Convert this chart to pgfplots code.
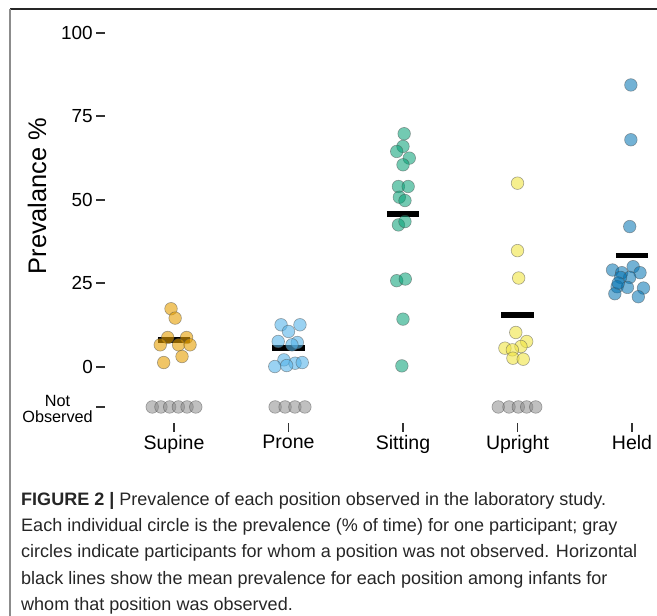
\documentclass[border=0pt]{standalone}
\usepackage{pgfplots}
\pgfplotsset{compat=1.18}
\usepackage{fontspec}
\setmainfont{Liberation Sans}
\definecolor{cSup}{HTML}{E69F00}
\definecolor{cPro}{HTML}{56B4E9}
\definecolor{cSit}{HTML}{009E73}
\definecolor{cUp}{HTML}{F0E442}
\definecolor{cHeld}{HTML}{0072B2}
\definecolor{cGray}{HTML}{8C8C8C}
\begin{document}
\begin{tikzpicture}[x=1bp,y=1bp]
\useasboundingbox (0,0) rectangle (657,616);
% frame
\draw[black!85,line width=1.3bp] (10,607) -- (657,607);
\draw[black!45,line width=1.3bp] (10,607) -- (10,0);
\begin{axis}[
  at={(105.3bp,193bp)}, anchor=south west,
  scale only axis, width=549.6bp, height=403.5bp,
  xmin=-0.6, xmax=4.2, ymin=-16.8, ymax=104,
  axis x line=bottom, axis y line=left,
  axis line style={draw=none},
  tick align=outside, major tick length=9bp,
  tick style={black!80, line width=1.8bp},
  xtick={0,1,2,3,4},
  xticklabels={Supine,Prone,Sitting,Upright,Held},
  ytick={0,25,50,75,100},
  extra y ticks={-12},
  extra y tick labels={{\fontsize{16.3}{15}\selectfont\begin{tabular}{@{}c@{}}Not\\Observed\end{tabular}}},
  extra y tick style={yticklabel style={yshift=-4.5bp}},
  /pgf/number format/assume math mode=true,
  yticklabel style={font=\fontsize{19}{21}\selectfont, black},
  xticklabel style={font=\fontsize{19.6}{21}\selectfont, black},
  clip=false,
  every axis plot/.append style={only marks, mark=*, mark size=6.3bp},
]
% gray not observed
\addplot[mark options={fill=cGray, fill opacity=0.55, draw=black!70, draw opacity=0.5, line width=0.6bp}] coordinates {
(-0.19,-12) (-0.114,-12) (-0.038,-12) (0.038,-12) (0.114,-12) (0.19,-12)
(0.883,-12) (0.97,-12) (1.056,-12) (1.143,-12)
(2.832,-12) (2.926,-12) (3.007,-12) (3.08,-12) (3.159,-12)
};
% Supine
\addplot[mark options={fill=cSup, fill opacity=0.6, draw=black!70, draw opacity=0.5, line width=0.6bp}] coordinates {
(-0.026,17.4) (0.01,14.6) (-0.055,8.8) (0.11,8.8) (-0.12,6.6) (0.04,6.6) (0.14,6.6) (-0.09,1.3) (0.07,3.1)
};
% Prone
\addplot[mark options={fill=cPro, fill opacity=0.6, draw=black!70, draw opacity=0.5, line width=0.6bp}] coordinates {
(0.935,12.6) (1.10,12.6) (1.0,10.6) (0.91,7.6) (1.077,7.3) (1.03,6.6) (0.96,2.1) (1.057,1.1) (1.12,1.3) (0.88,0.1) (0.984,0.4)
};
% Sitting
\addplot[mark options={fill=cSit, fill opacity=0.55, draw=black!70, draw opacity=0.5, line width=0.6bp}] coordinates {
(2.01,69.8) (2.0,66.0) (1.945,64.5) (2.055,62.5) (2.0,60.5) (1.96,54.0) (2.045,54.0) (1.968,50.8) (2.017,49.8) (1.96,42.5) (2.017,43.5) (1.945,25.8) (2.02,26.3) (2.0,14.3) (1.99,0.3)
};
% Upright
\addplot[mark options={fill=cUp, fill opacity=0.6, draw=black!70, draw opacity=0.5, line width=0.6bp}] coordinates {
(3.0,55.0) (3.0,34.8) (3.01,26.6) (2.985,10.3) (3.08,7.6) (2.89,5.6) (3.03,6.1) (2.955,5.1) (2.96,2.6) (3.05,2.3)
};
% Held
\addplot[mark options={fill=cHeld, fill opacity=0.55, draw=black!70, draw opacity=0.5, line width=0.6bp}] coordinates {
(3.99,84.4) (3.99,68.0) (3.98,42.0) (3.83,29.0) (3.91,28.2) (4.01,30.0) (4.07,28.2) (3.98,26.8) (3.90,26.8) (3.87,24.0) (3.96,23.8) (4.10,23.6) (3.85,21.9) (4.055,21.0) (3.88,25.1)
};
% means
\addplot[no marks, sharp plot, black, line width=5.5bp, line cap=butt] coordinates {(-0.14,8.1) (0.14,8.1)};
\addplot[no marks, sharp plot, black, line width=5.5bp, line cap=butt] coordinates {(0.86,5.6) (1.14,5.6)};
\addplot[no marks, sharp plot, black, line width=5.5bp, line cap=butt] coordinates {(1.86,45.7) (2.14,45.7)};
\addplot[no marks, sharp plot, black, line width=5.5bp, line cap=butt] coordinates {(2.86,15.6) (3.14,15.6)};
\addplot[no marks, sharp plot, black, line width=5.5bp, line cap=butt] coordinates {(3.86,33.3) (4.14,33.3)};
\end{axis}
% y label
\node[rotate=90, font=\fontsize{25.5}{28}\selectfont] at (37,420) {Prevalance \%};
% caption
\begin{scope}[every node/.style={anchor=base west, inner sep=0pt, font=\fontsize{18.1}{20}\selectfont, text=black!85}]
\node at (21,110.5) {\textbf{FIGURE 2 |} Prevalence of each position observed in the laboratory study.};
\node at (21,84.3) {Each individual circle is the prevalence (\% of time) for one participant; gray};
\node at (21,58) {circles indicate participants for whom a position was not observed. Horizontal};
\node at (21,31.7) {black lines show the mean prevalence for each position among infants for};
\node at (21,5.5) {whom that position was observed.};
\end{scope}
\end{tikzpicture}
\end{document}
